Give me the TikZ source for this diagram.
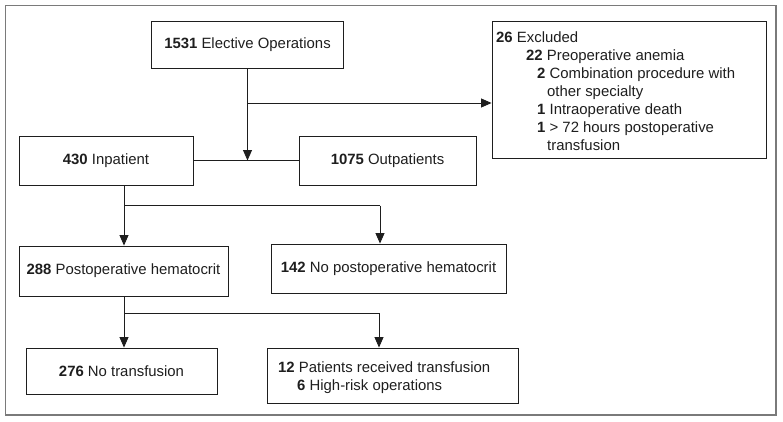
\documentclass[tikz,border=0pt]{standalone}
\usepackage{fontspec}
\setmainfont{Liberation Sans}
\usetikzlibrary{arrows.meta}
\definecolor{framegray}{HTML}{7A7A7A}
\definecolor{ink}{HTML}{1E1E1E}
\begin{document}
\begin{tikzpicture}[x=1pt,y=-1pt,
  every node/.style={font=\fontsize{14.9}{18}\selectfont, text=ink, inner sep=0pt},
  box/.style={draw=ink, line width=0.9pt, rectangle},
  conn/.style={draw=ink, line width=0.9pt},
  arr/.style={conn, -{Triangle[length=10.5pt,width=9pt]}},
  txt/.style={anchor=base west}]
\useasboundingbox (0,0) rectangle (783,421);
\draw[framegray, line width=1.3pt] (5.5,5.5) rectangle (776,415);

% boxes
\node[box, minimum width=192, minimum height=47] (op) at (247.5,44.5) {\textbf{1531} Elective Operations};
\node[box, minimum width=274, minimum height=137] (ex) at (629,89.5) {};
\node[box, minimum width=174, minimum height=49] (inp) at (106,160.5) {\textbf{430} Inpatient};
\node[box, minimum width=177, minimum height=49] (outp) at (387.5,160.5) {\textbf{1075} Outpatients};
\node[box, minimum width=209, minimum height=50] (hem) at (123.5,271) {\textbf{288} Postoperative hematocrit};
\node[box, minimum width=235, minimum height=49] (nohem) at (388.5,268.5) {\textbf{142} No postoperative hematocrit};
\node[box, minimum width=191, minimum height=46] (notr) at (121.5,371) {\textbf{276} No transfusion};
\node[box, minimum width=251, minimum height=55] (tr) at (392.5,375.5) {};

% excluded text
\node[txt] (ex1) at (496,42) {\textbf{26} Excluded};
\node[txt] (ex2) at (526,60) {\textbf{22} Preoperative anemia};
\node[txt] (ex3) at (537,78) {\textbf{2} Combination procedure with};
\node[txt] (ex4) at (547,96) {other specialty};
\node[txt] (ex5) at (537,114) {\textbf{1} Intraoperative death};
\node[txt] (ex6) at (537,132) {\textbf{1} > 72 hours postoperative};
\node[txt] (ex7) at (547,150) {transfusion};

% transfusion text
\node[txt] (tr1) at (278,372) {\textbf{12} Patients received transfusion};
\node[txt] (tr2) at (297,390) {\textbf{6} High-risk operations};

% connectors
\coordinate (j1) at (247.5,160.5);
\coordinate (b1) at (247.5,103);
\draw[arr] (op.south) -- (j1);
\draw[arr] (b1) -- (b1 -| ex.west);
\draw[conn] (inp.east) -- (outp.west);

\coordinate (s1) at (124,185);
\coordinate (h1) at (124,205.7);
\coordinate (h2) at (380,205.7);
\draw[conn] (s1) -- (h1) -- (h2);
\draw[arr] (h1) -- (h1 |- hem.north);
\draw[arr] (h2) -- (h2 |- nohem.north);

\coordinate (h3) at (124,313);
\coordinate (h4) at (379,313);
\draw[conn] (hem.south -| h3) -- (h3) -- (h4);
\draw[arr] (h3) -- (h3 |- notr.north);
\draw[arr] (h4) -- (h4 |- tr.north);
\end{tikzpicture}
\end{document}
